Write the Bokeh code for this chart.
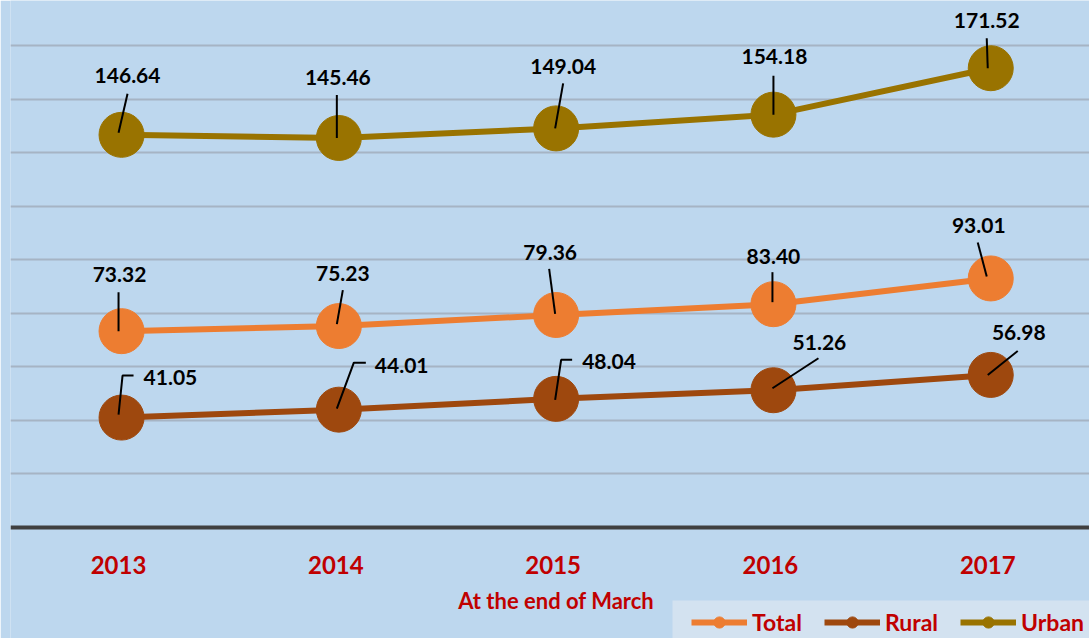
from bokeh.plotting import figure
from bokeh.models import (ColumnDataSource, FixedTicker, Legend, LegendItem, Range1d,
                          Span, BoxAnnotation)
from bokeh.core.properties import value
from bokeh.embed import file_html
from bokeh.resources import INLINE

# ---------------- data ----------------
years = ["2013", "2014", "2015", "2016", "2017"]
total = [73.32, 75.23, 79.36, 83.40, 93.01]
rural = [41.05, 44.01, 48.04, 51.26, 56.98]
urban = [146.64, 145.46, 149.04, 154.18, 171.52]
grid_values = [20, 40, 60, 80, 100, 120, 140, 160, 180]
x_title = "At the end of March"
series_names = ["Total", "Rural", "Urban"]

# ---------------- style ----------------
BG = "#BDD7EE"
LEGEND_BG = "#D3E2F0"
C_TOTAL = "#ED7D31"
C_RURAL = "#9E480E"
C_URBAN = "#997300"
RED = "#C00000"
FONT = "Lato"

W, H = 1089, 638
BORDER_L = 10
FW = W - BORDER_L
ZERO_Y = 527            # canvas y of the value 0
PX_X = 217.3            # pixels per category
PX_Y = 482.0 / 180.0    # pixels per unit
X0 = -0.511
x_range = Range1d(X0, X0 + FW / PX_X)
y_range = Range1d(-(H - ZERO_Y) / PX_Y, ZERO_Y / PX_Y)

# legend panel (screen pixels)
LEG_LEFT, LEG_TOP = 672, 600

# leader-line polylines and label offsets, in screen pixels relative to the point
urban_leaders = [[(-3, -2), (6, -41)], [(-2, 0), (-2, -43)], [(-1, 0), (7, -45)],
                 [(0, 0), (0, -39)], [(-3, 0), (-4, -30)]]
urban_lab = [(6, -59, "center"), (-1, -60, "center"), (7, -62, "center"),
             (1, -58, "center"), (-4, -48, "center")]
total_leaders = [[(-3, 0), (-3, -39)], [(-2, -2), (4, -36)], [(-1, -1), (-7, -46)],
                 [(-1, -2), (-1, -32)], [(-4, -2), (-13, -36)]]
total_lab = [(-2, -57, "center"), (4, -53, "center"), (-6, -62, "center"),
             (0, -48, "center"), (-12, -53, "center")]
rural_leaders = [[(-3, -3), (1, -42), (12, -42)], [(-2, -1), (15, -47), (27, -47)],
                 [(-1, 1), (5, -39), (16, -39)], [(-1, -2), (45, -32)], [(-3, 0), (27, -24)]]
rural_lab = [(22, -40, "left"), (36, -44, "left"), (26, -37, "left"),
             (46, -48, "center"), (28, -42, "center")]

p = figure(width=W, height=H, x_range=x_range, y_range=y_range,
           output_backend="svg", toolbar_location=None,
           x_axis_location=None, y_axis_location=None,
           min_border_left=BORDER_L, min_border_right=0, min_border_top=0,
           min_border_bottom=0)
p.background_fill_color = BG
p.border_fill_color = BG
p.outline_line_color = None

p.xgrid.visible = False
p.ygrid.ticker = FixedTicker(ticks=grid_values)
p.ygrid.grid_line_color = "#A6B4C4"
p.ygrid.grid_line_width = 2

# category axis line at value 0
p.add_layout(Span(location=0, dimension="width", line_color="#404040", line_width=4))

xs = list(range(len(years)))

# category labels and axis title
p.text(xs, [0] * len(xs), text=years, x_offset=-3, y_offset=37, text_align="center",
       text_baseline="middle", text_color=RED, text_font=value(FONT),
       text_font_style="bold", text_font_size="24px")
p.text([(len(xs) - 1) / 2], [0], text=[x_title], y_offset=73, text_align="center",
       text_baseline="middle", text_color=RED, text_font=value(FONT),
       text_font_style="bold", text_font_size="22px")

renderers = {}
all_series = [("Urban", urban, C_URBAN, urban_leaders, urban_lab),
              ("Total", total, C_TOTAL, total_leaders, total_lab),
              ("Rural", rural, C_RURAL, rural_leaders, rural_lab)]

for name, vals, col, leaders, labs in all_series:
    src = ColumnDataSource(dict(x=xs, y=vals))
    ln = p.line("x", "y", source=src, line_color=col, line_width=6)
    sc = p.scatter("x", "y", source=src, size=45, fill_color=col, line_color=col)
    renderers[name] = (ln, sc)

for name, vals, col, leaders, labs in all_series:
    lxs = [[i + dx / PX_X for dx, dy in pts] for i, pts in zip(xs, leaders)]
    lys = [[v - dy / PX_Y for dx, dy in pts] for v, pts in zip(vals, leaders)]
    p.multi_line(lxs, lys, line_color="black", line_width=2)
    tsrc = ColumnDataSource(dict(
        x=xs, y=vals, t=["%.2f" % v for v in vals],
        xo=[l[0] for l in labs], yo=[l[1] for l in labs], al=[l[2] for l in labs]))
    p.text("x", "y", text="t", source=tsrc, x_offset="xo", y_offset="yo",
           text_align="al", text_baseline="middle", text_color="black",
           text_font=value(FONT), text_font_style="bold", text_font_size="21px")

# lighter legend panel
p.add_layout(BoxAnnotation(
    left=X0 + (LEG_LEFT - BORDER_L) / PX_X, right=x_range.end,
    top=(ZERO_Y - LEG_TOP) / PX_Y, bottom=y_range.start,
    fill_color=LEGEND_BG, fill_alpha=1.0, line_color=None))

legend = Legend(
    items=[LegendItem(label=n, renderers=list(renderers[n])) for n in series_names],
    location=(681, 2), orientation="horizontal",
    background_fill_alpha=0.0, border_line_color=None,
    padding=22, spacing=22, margin=0,
    glyph_width=56, glyph_height=28, label_standoff=5,
    label_text_font=FONT, label_text_font_style="bold",
    label_text_font_size="23px", label_text_color=RED)
p.add_layout(legend)

open("out.html", "w").write(file_html(p, INLINE))
